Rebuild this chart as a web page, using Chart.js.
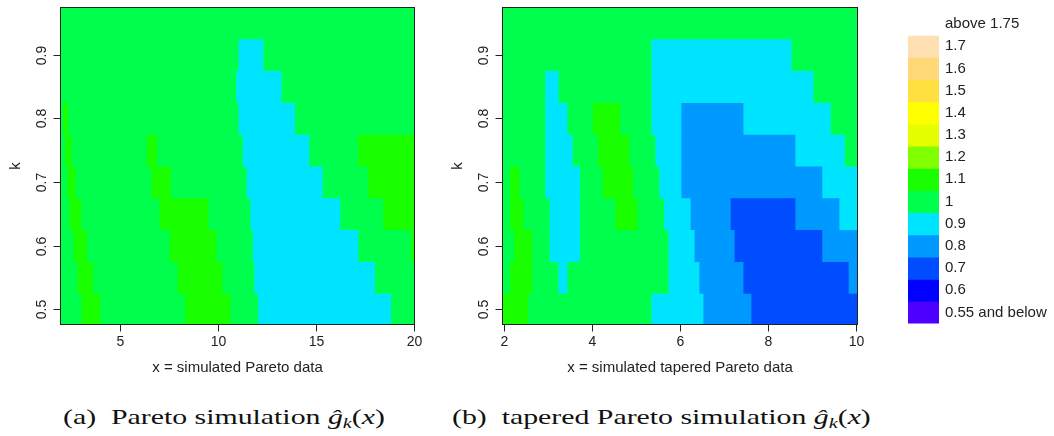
<!DOCTYPE html>
<html lang="en">
<head>
<meta charset="UTF-8">
<title>Pareto and tapered Pareto simulation</title>
<style>
    body {
        margin: 0;
        background: #fff;
        font-family: "Liberation Sans", Arial, sans-serif;
    }
    .page {
        position: relative;
        width: 1054px;
        height: 436px;
        overflow: hidden;
    }
    .page canvas {
        position: absolute;
        top: 0;
    }
    .cap {
        position: absolute;
        top: 406px;
        font-family: "Liberation Serif", serif;
        font-size: 22px;
        line-height: 22px;
        white-space: nowrap;
        color: #111;
        transform: scaleX(1.355);
        transform-origin: 0 0;
    }
    .cap sub {
        font-size: 15px;
        vertical-align: -4px;
        line-height: 0;
    }
</style>
<script src="https://cdn.jsdelivr.net/npm/chart.js"></script>
</head>
<body>
<div class="page">
    <canvas id="paretoChart" width="440" height="380" style="left:0"></canvas>
    <canvas id="taperedChart" width="440" height="380" style="left:440px"></canvas>
    <canvas id="keyChart" width="174" height="340" style="left:880px"></canvas>
    <div class="cap" style="left:63px">(a)&nbsp; Pareto simulation <i>ĝ</i><sub><i>k</i></sub>(<i>x</i>)</div>
    <div class="cap" style="left:452px">(b)&nbsp; tapered Pareto simulation <i>ĝ</i><sub><i>k</i></sub>(<i>x</i>)</div>
</div>

<script>
    // one row of cells for each k
    const kValues = [0.5, 0.55, 0.6, 0.65, 0.7, 0.75, 0.8, 0.85, 0.9, 0.95];
    const kTicks = [0.5, 0.6, 0.7, 0.8, 0.9];

    // (a) Pareto data: x where the binned estimate changes, per row, and the bin of each run
    const paretoRange = [1.94, 20.05];
    const paretoTicks = [5, 10, 15, 20];
    const paretoBreaks = [
        [3.06, 4.03, 8.35, 10.66, 12.08, 18.85],
        [2.86, 3.66, 7.97, 10.25, 11.88, 18.03],
        [2.66, 3.35, 7.57, 9.94, 11.80, 17.18, 19.88],
        [2.45, 3.05, 7.04, 9.54, 11.68, 16.26, 18.46],
        [2.33, 2.76, 6.63, 7.63, 11.49, 15.36, 17.69],
        [2.23, 2.55, 6.39, 6.92, 11.29, 14.68, 17.18],
        [2.13, 2.37, 11.08, 13.95],
        [10.96, 13.26],
        [11.08, 12.34],
        []
    ];
    const paretoLevels = [
        [1, 1.1, 1, 1.1, 1, 0.9, 1],
        [1, 1.1, 1, 1.1, 1, 0.9, 1],
        [1, 1.1, 1, 1.1, 1, 0.9, 1, 1.1],
        [1, 1.1, 1, 1.1, 1, 0.9, 1, 1.1],
        [1, 1.1, 1, 1.1, 1, 0.9, 1, 1.1],
        [1, 1.1, 1, 1.1, 1, 0.9, 1, 1.1],
        [1, 1.1, 1, 0.9, 1],
        [1, 0.9, 1],
        [1, 0.9, 1],
        [1]
    ];

    // (b) tapered Pareto data
    const taperedRange = [1.955, 10.04];
    const taperedTicks = [2, 4, 6, 8, 10];
    const taperedBreaks = [
        [2.56, 5.36, 6.54, 7.63],
        [2.15, 2.65, 3.25, 3.45, 5.75, 6.45, 7.45, 9.84],
        [2.24, 2.65, 3.05, 3.74, 5.75, 6.34, 7.25, 9.24],
        [2.15, 2.45, 3.05, 3.74, 4.54, 5.04, 5.65, 6.25, 7.16, 8.63, 9.63],
        [2.15, 2.36, 2.95, 3.74, 4.25, 4.94, 5.54, 6.04, 9.24],
        [2.95, 3.57, 4.15, 4.85, 5.45, 6.04, 8.63, 9.75],
        [2.95, 3.45, 4.03, 4.65, 5.36, 6.04, 7.45, 9.43],
        [2.95, 3.25, 5.36, 9.04],
        [5.36, 8.54],
        []
    ];
    const taperedLevels = [
        [1.1, 1, 0.9, 0.8, 0.7],
        [1, 1.1, 1, 0.9, 1, 0.9, 0.8, 0.7, 0.8],
        [1, 1.1, 1, 0.9, 1, 0.9, 0.8, 0.7, 0.8],
        [1, 1.1, 1, 0.9, 1, 1.1, 1, 0.9, 0.8, 0.7, 0.8, 0.9],
        [1, 1.1, 1, 0.9, 1, 1.1, 1, 0.9, 0.8, 0.9],
        [1, 0.9, 1, 1.1, 1, 0.9, 0.8, 0.9, 1],
        [1, 0.9, 1, 1.1, 1, 0.9, 0.8, 0.9, 1],
        [1, 0.9, 1, 0.9, 1],
        [1, 0.9, 1],
        [1]
    ];

    // colour key, bottom to top
    const keyLabels = ['0.55 and below', '0.6', '0.7', '0.8', '0.9', '1', '1.1', '1.2', '1.3', '1.4', '1.5', '1.6', '1.7', 'above 1.75'];
    const keyLevels = [0.55, 0.6, 0.7, 0.8, 0.9, 1, 1.1, 1.2, 1.3, 1.4, 1.5, 1.6, 1.7, 1.8];
    const keyColors = ['#4D00FF', '#0000FF', '#004DFF', '#0099FF', '#00E5FF', '#00FF4D', '#1AFF00',
                       '#80FF00', '#E6FF00', '#FFFF00', '#FFE040', '#FFD978', '#FFE0B3', '#FFFFFF'];

    function colorFor(v) {
        let best = 0;
        keyLevels.forEach((l, i) => {
            if (Math.abs(l - v) < Math.abs(keyLevels[best] - v)) best = i;
        });
        return keyColors[best];
    }

    // turn break lists into floating horizontal bars
    function buildCells(range, breaks, levels) {
        const cells = [];
        kValues.forEach((k, r) => {
            const edges = [range[0], ...breaks[r], range[1]];
            levels[r].forEach((v, i) => {
                cells.push({ y: k, x: [edges[i], edges[i + 1]], v: v });
            });
        });
        return cells;
    }

    const AXIS_FONT = '"Liberation Sans", Arial, sans-serif';

    // R style box, outward ticks and rotated y labels
    const rAxes = {
        id: 'rAxes',
        afterDraw(chart, args, opts) {
            const { ctx, chartArea: a } = chart;
            const xs = chart.scales.x, ys = chart.scales.y;
            const L = Math.round(a.left) + 0.5, R = Math.round(a.right) - 0.5;
            const T = Math.round(a.top) + 0.5, B = Math.round(a.bottom) - 0.5;
            ctx.save();
            ctx.strokeStyle = '#222';
            ctx.fillStyle = '#222';
            ctx.lineWidth = 1;
            ctx.strokeRect(L, T, R - L, B - T);

            ctx.font = '14px ' + AXIS_FONT;
            ctx.textAlign = 'center';
            ctx.textBaseline = 'middle';
            ctx.beginPath();
            opts.xTicks.forEach(v => {
                const px = Math.round(xs.getPixelForValue(v)) + 0.5;
                ctx.moveTo(px, B);
                ctx.lineTo(px, B + 7);
                ctx.fillText(String(v), px, B + 18);
            });
            opts.yTicks.forEach(v => {
                const py = Math.round(ys.getPixelForValue(v)) + 0.5;
                ctx.moveTo(L, py);
                ctx.lineTo(L - 7, py);
                ctx.save();
                ctx.translate(L - 18, py);
                ctx.rotate(-Math.PI / 2);
                ctx.fillText(String(v), 0, 0);
                ctx.restore();
            });
            ctx.stroke();

            ctx.font = '15px ' + AXIS_FONT;
            ctx.fillText(opts.xTitle, (a.left + a.right) / 2, B + 43);
            ctx.save();
            ctx.translate(L - 45, (a.top + a.bottom) / 2);
            ctx.rotate(-Math.PI / 2);
            ctx.fillText(opts.yTitle, 0, 0);
            ctx.restore();
            ctx.restore();
        }
    };

    function makePanel(id, range, breaks, levels, ticks, title, pad) {
        return new Chart(document.getElementById(id), {
            type: 'bar',
            data: {
                datasets: [{
                    data: buildCells(range, breaks, levels),
                    backgroundColor: c => colorFor(c.raw.v),
                    borderWidth: 0,
                    categoryPercentage: 1,
                    barPercentage: 1,
                    inflateAmount: 0.5
                }]
            },
            options: {
                indexAxis: 'y',
                responsive: false,
                animation: false,
                events: [],
                layout: { padding: pad },
                scales: {
                    x: { type: 'linear', display: false, min: range[0], max: range[1] },
                    // ticks kept off the bounds so the bar ruler uses the 0.05 row spacing
                    y: {
                        type: 'linear', display: false, offset: false, min: 0.475, max: 0.975,
                        ticks: { includeBounds: false, stepSize: 0.1 }
                    }
                },
                plugins: {
                    legend: { display: false },
                    tooltip: { enabled: false },
                    rAxes: { xTicks: ticks, yTicks: kTicks, xTitle: title, yTitle: 'k' }
                }
            },
            plugins: [rAxes]
        });
    }

    makePanel('paretoChart', paretoRange, paretoBreaks, paretoLevels, paretoTicks,
        'x = simulated Pareto data', { left: 60, right: 25, top: 7, bottom: 55 });
    makePanel('taperedChart', taperedRange, taperedBreaks, taperedLevels, taperedTicks,
        'x = simulated tapered Pareto data', { left: 62, right: 22, top: 7, bottom: 55 });

    // labels beside the colour key
    const keyText = {
        id: 'keyText',
        afterDraw(chart) {
            const { ctx, chartArea: a } = chart;
            const ys = chart.scales.y;
            ctx.save();
            ctx.fillStyle = '#222';
            ctx.font = '15px ' + AXIS_FONT;
            ctx.textAlign = 'left';
            ctx.textBaseline = 'middle';
            keyLabels.forEach((t, i) => ctx.fillText(t, a.right + 6, ys.getPixelForValue(i + 0.5)));
            ctx.restore();
        }
    };

    new Chart(document.getElementById('keyChart'), {
        type: 'bar',
        data: {
            labels: ['key'],
            datasets: [{
                data: keyLevels.map((v, i) => ({ x: 'key', y: [i, i + 1] })),
                backgroundColor: keyColors,
                borderWidth: 0,
                categoryPercentage: 1,
                barPercentage: 1,
                inflateAmount: 0.5
            }]
        },
        options: {
            responsive: false,
            animation: false,
            events: [],
            layout: { padding: { left: 28, right: 115, top: 13, bottom: 16.5 } },
            scales: {
                x: { display: false },
                y: { type: 'linear', display: false, min: 0, max: keyLevels.length }
            },
            plugins: {
                legend: { display: false },
                tooltip: { enabled: false }
            }
        },
        plugins: [keyText]
    });
</script>
</body>
</html>
